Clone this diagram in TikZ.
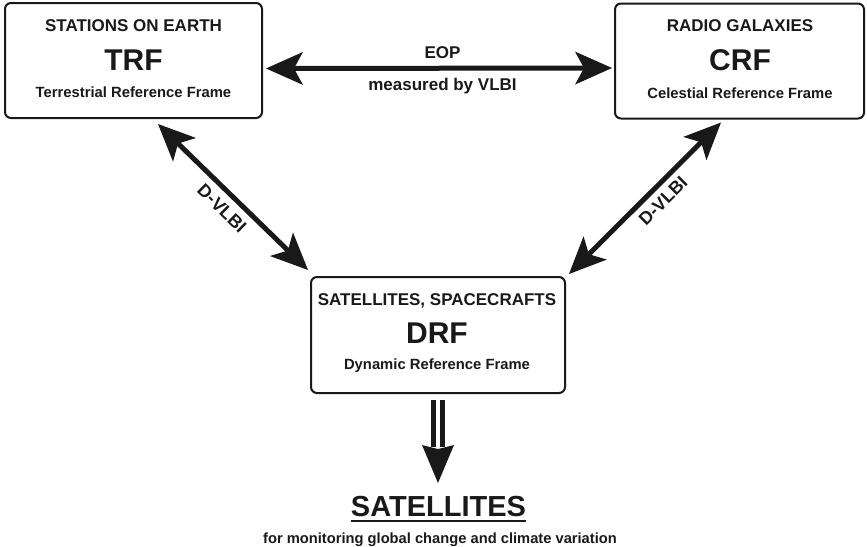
\documentclass[tikz,border=0pt]{standalone}
\usepackage{fontspec}
\setmainfont{Liberation Sans}
\usetikzlibrary{arrows.meta,calc}
\definecolor{ink}{rgb}{0.1,0.1,0.1}
\tikzset{
  frame/.style={draw=ink, line width=2pt, rounded corners=6pt, fill=white, inner sep=0pt},
  hdtext/.style={text=ink, inner sep=0pt, anchor=base, font=\bfseries\fontsize{17}{20}\selectfont},
  bigtext/.style={text=ink, inner sep=0pt, anchor=base, font=\bfseries\fontsize{30}{34}\selectfont},
  subtext/.style={text=ink, inner sep=0pt, anchor=base, font=\bfseries\fontsize{14.8}{17}\selectfont},
  biarrow/.style={draw=ink, line width=5pt, {Stealth[length=37pt, width=33pt, inset=9pt, line width=0pt]}-{Stealth[length=37pt, width=33pt, inset=9pt, line width=0pt]}},
  lbl/.style={text=ink, inner sep=1pt, font=\bfseries\fontsize{18}{20}\selectfont},
  barline/.style={draw=ink, line width=5pt},
}
\begin{document}
\begin{tikzpicture}[x=1pt,y=-1pt]
\useasboundingbox (0,0) rectangle (867,546);
% boxes
\node[frame, minimum width=257pt, minimum height=115pt] (trf) at (133.5,60.5) {};
\node[frame, minimum width=249pt, minimum height=115pt] (crf) at (739.5,61) {};
\node[frame, minimum width=254pt, minimum height=116pt] (drf) at (438,335) {};
% TRF texts
\node[hdtext] (trf1) at (133.5,31) {STATIONS ON EARTH};
\node[bigtext] (trf2) at (133.5,70) {TRF};
\node[subtext] (trf3) at (133.5,97) {Terrestrial Reference Frame};
% CRF texts
\node[hdtext] (crf1) at (740,31) {RADIO GALAXIES};
\node[bigtext] (crf2) at (740,70) {CRF};
\node[subtext] (crf3) at (740,98) {Celestial Reference Frame};
% DRF texts
\node[hdtext] (drf1) at (437,305) {SATELLITES, SPACECRAFTS};
\node[bigtext] (drf2) at (437,343) {DRF};
\node[subtext] (drf3) at (437,369) {Dynamic Reference Frame};
% EOP arrow
\draw[biarrow] ([shift={(3,8)}]trf.east) -- ([shift={(-2,7)}]crf.west);
\node[hdtext] (eop) at (442.5,58.5) {EOP};
\node[hdtext] (meas) at (442.5,90) {measured by VLBI};
% D-VLBI arrows
\draw[biarrow] ([shift={(154,5)}]trf.south west) -- node[lbl, sloped, below=6pt, pos=0.5] (dl) {D-VLBI} ([shift={(-2,-6)}]drf.north west);
\draw[biarrow] ([shift={(107,3)}]crf.south west) -- node[lbl, sloped, below=5pt, pos=0.45] (dr) {D-VLBI} ([shift={(3,-2)}]drf.north east);
% bottom
\node[text=ink, inner sep=0pt, anchor=base, font=\bfseries\fontsize{29}{33}\selectfont] (sat) at (438.5,516) {SATELLITES};
\draw[ink, line width=2pt] ([yshift=-5pt]sat.base west) -- ([yshift=-5pt]sat.base east);
\node[text=ink, inner sep=0pt, anchor=base, font=\bfseries\fontsize{14.7}{17}\selectfont] (satsub) at (440,543) {for monitoring global change and climate variation};
\coordinate (dtop) at ([yshift=-6pt]drf.south);
\coordinate (dtip) at ([yshift=-89pt]drf.south);
\draw[barline] ($(dtop)+(-4.5,0)$) -- ($(dtip)+(-4.5,-36)$);
\draw[barline] ($(dtop)+(4.5,0)$) -- ($(dtip)+(4.5,-36)$);
\fill[ink] ($(dtip)+(-16,-38)$) -- (dtip) -- ($(dtip)+(16,-38)$) -- ($(dtip)+(0,-34)$) -- cycle;
\end{tikzpicture}
\end{document}
